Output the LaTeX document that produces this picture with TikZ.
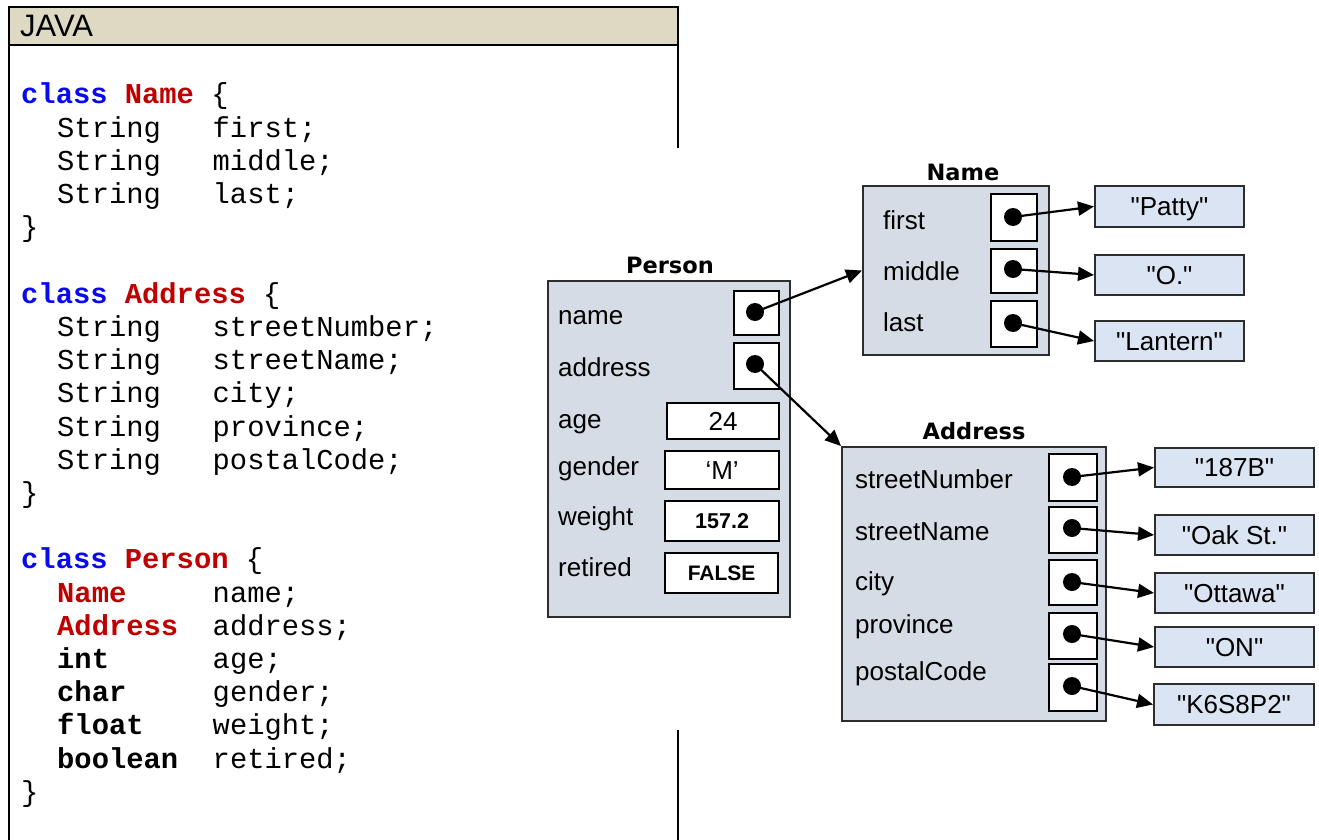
\documentclass[tikz,border=0pt]{standalone}
\usepackage{fontspec}
\setmainfont{Liberation Sans}[Ligatures=TeXOff]
\newfontfamily\codefont{Liberation Mono}[Ligatures=TeXOff]
\newfontfamily\ttlfont{DejaVu Sans}
\usetikzlibrary{arrows.meta}
\definecolor{hdrfill}{RGB}{221,217,195}
\definecolor{clsfill}{RGB}{214,220,229}
\definecolor{valfill}{RGB}{219,228,243}
\definecolor{kwblue}{RGB}{10,10,240}
\definecolor{kwred}{RGB}{192,0,0}
\definecolor{edge}{RGB}{45,45,45}
\newcommand\kwb[1]{\textcolor{kwblue}{\bfseries #1}}
\newcommand\kwr[1]{\textcolor{kwred}{\bfseries #1}}
\newcommand\fld[2]{\hspace*{36pt}\makebox[155.52pt][l]{#1}#2}
\begin{document}
\begin{tikzpicture}[x=1pt,y=-1pt,
  codeln/.style={anchor=base west,inner sep=0pt,font=\codefont\fontsize{28.8}{33}\selectfont},
  lbl/.style={anchor=base west,inner sep=0pt,font=\fontsize{26}{30}\selectfont},
  ttl/.style={anchor=base,inner sep=0pt,font=\ttlfont\bfseries\fontsize{22.5}{26}\selectfont},
  cls/.style={draw=edge,fill=clsfill,line width=2pt,anchor=north west,inner sep=0pt},
  ptr/.style={draw=black,fill=white,line width=2.2pt,anchor=north west,inner sep=0pt},
  prim/.style={draw=black,fill=white,line width=2.2pt,anchor=north west,inner sep=0pt,text height=18pt,text depth=0pt},
  val/.style={draw=edge,fill=valfill,line width=2pt,anchor=north west,inner sep=0pt,
    font=\fontsize{26}{30}\selectfont,text height=18.6pt,text depth=0pt},
  pdot/.style={circle,fill=black,inner sep=0pt,minimum size=18pt},
  arr/.style={-{Triangle[length=16pt,width=14pt]},line width=2.2pt,draw=black}]
\useasboundingbox (0,0) rectangle (1319,840);
\fill[white] (0,0) rectangle (1319,840);

% ---------------- code panel ----------------
\node[fill=hdrfill,anchor=north west,inner sep=0pt,minimum width=669,minimum height=38] (hdr) at (9,7) {};
\draw[line width=2pt] (678,148) -- (678,7) -- (9,7) -- (9,840);
\draw[line width=2pt] (9,45) -- (678,45);
\draw[line width=2pt] (678,730) -- (678,840);
\node[anchor=base west,inner sep=0pt,font=\fontsize{31}{34}\selectfont] (java) at (20,37) {JAVA};

\node[codeln] (c0)  at (21,104) {\kwb{class} \kwr{Name} \{};
\node[codeln] (c1)  at (21,137.2) {\fld{String}{first;}};
\node[codeln] (c2)  at (21,170.4) {\fld{String}{middle;}};
\node[codeln] (c3)  at (21,203.6) {\fld{String}{last;}};
\node[codeln] (c4)  at (21,236.8) {\}};
\node[codeln] (c6)  at (21,303.2) {\kwb{class} \kwr{Address} \{};
\node[codeln] (c7)  at (21,336.4) {\fld{String}{streetNumber;}};
\node[codeln] (c8)  at (21,369.6) {\fld{String}{streetName;}};
\node[codeln] (c9)  at (21,402.8) {\fld{String}{city;}};
\node[codeln] (c10) at (21,436) {\fld{String}{province;}};
\node[codeln] (c11) at (21,469.2) {\fld{String}{postalCode;}};
\node[codeln] (c12) at (21,502.4) {\}};
\node[codeln] (c14) at (21,568.8) {\kwb{class} \kwr{Person} \{};
\node[codeln] (c15) at (21,602) {\fld{\kwr{Name}}{name;}};
\node[codeln] (c16) at (21,635.2) {\fld{\kwr{Address}}{address;}};
\node[codeln] (c17) at (21,668.4) {\fld{\bfseries int}{age;}};
\node[codeln] (c18) at (21,701.6) {\fld{\bfseries char}{gender;}};
\node[codeln] (c19) at (21,734.8) {\fld{\bfseries float}{weight;}};
\node[codeln] (c20) at (21,768) {\fld{\bfseries boolean}{retired;}};
\node[codeln] (c21) at (21,801.2) {\}};

% ---------------- Person ----------------
\node[ttl] (tperson) at (670,273) {Person};
\node[cls,minimum width=242,minimum height=336] (person) at (547,280) {};
\node[lbl] (lname)  at (558,324) {name};
\node[lbl] (laddr)  at (558,376.5) {address};
\node[lbl] (lage)   at (558,428) {age};
\node[lbl] (lgen)   at (558,475) {gender};
\node[lbl] (lwei)   at (558,525) {weight};
\node[lbl] (lret)   at (558,576.5) {retired};
\node[ptr,minimum width=45,minimum height=44] (pname) at (733,290) {};
\node[ptr,minimum width=45,minimum height=46] (paddr) at (733,342) {};
\node[prim,minimum width=112,minimum height=36,font=\fontsize{26}{30}\selectfont] (vage) at (666,402) {24};
\node[prim,minimum width=114,minimum height=38,font=\fontsize{26}{30}\selectfont] (vgen) at (664,450) {‘M’};
\node[prim,minimum width=114,minimum height=40,font=\bfseries\fontsize{21.5}{26}\selectfont,text height=15.5pt] (vwei) at (664,500) {157.2};
\node[prim,minimum width=113,minimum height=40,font=\bfseries\fontsize{21}{26}\selectfont,text height=15pt] (vret) at (664,552) {FALSE};

% ---------------- Name ----------------
\node[ttl] (tname) at (963,180) {Name};
\node[cls,minimum width=186,minimum height=169] (name) at (862,185) {};
\node[lbl] (lfirst) at (883,229) {first};
\node[lbl] (lmid)   at (883,280) {middle};
\node[lbl] (llast)  at (883,331) {last};
\node[ptr,minimum width=46,minimum height=47] (pfirst) at (990,193) {};
\node[ptr,minimum width=46,minimum height=44] (pmid)   at (990,248) {};
\node[ptr,minimum width=46,minimum height=46] (plast)  at (990,300) {};
\node[val,minimum width=149,minimum height=41] (vpatty) at (1094,185) {"Patty"};
\node[val,minimum width=149,minimum height=40] (vo)     at (1094,254) {"O."};
\node[val,minimum width=149,minimum height=40] (vlant)  at (1094,320) {"Lantern"};

% ---------------- Address ----------------
\node[ttl] (taddr) at (974,439) {Address};
\node[cls,minimum width=264,minimum height=274] (addr) at (841,446) {};
\node[lbl] (lsnum)  at (855,488) {streetNumber};
\node[lbl] (lsnam)  at (855,540) {streetName};
\node[lbl] (lcity)  at (855,590) {city};
\node[lbl] (lprov)  at (855,633) {province};
\node[lbl] (lpost)  at (855,680) {postalCode};
\node[ptr,minimum width=48,minimum height=47] (psnum) at (1048,453) {};
\node[ptr,minimum width=48,minimum height=46] (psnam) at (1048,506) {};
\node[ptr,minimum width=48,minimum height=45] (pcity) at (1048,559) {};
\node[ptr,minimum width=48,minimum height=46] (pprov) at (1048,612) {};
\node[ptr,minimum width=48,minimum height=47] (ppost) at (1048,663) {};
\node[val,minimum width=159,minimum height=39] (v187) at (1154,447) {"187B"};
\node[val,minimum width=159,minimum height=40] (voak) at (1154,514) {"Oak St."};
\node[val,minimum width=159,minimum height=40] (vott) at (1154,572) {"Ottawa"};
\node[val,minimum width=159,minimum height=40] (von)  at (1154,626) {"ON"};
\node[val,minimum width=160,minimum height=41] (vk6)  at (1153,683) {"K6S8P2"};

% ---------------- dots ----------------
\node[pdot] (dname)  at (755,312) {};
\node[pdot] (daddr)  at (755,364) {};
\node[pdot] (dfirst) at (1013,217) {};
\node[pdot] (dmid)   at (1013,269) {};
\node[pdot] (dlast)  at (1013,323) {};
\node[pdot] (dsnum)  at (1072,477) {};
\node[pdot] (dsnam)  at (1072,528) {};
\node[pdot] (dcity)  at (1072,582) {};
\node[pdot] (dprov)  at (1072,634) {};
\node[pdot] (dpost)  at (1072,686) {};

% ---------------- arrows ----------------
\draw[arr] (dname.center) -- (name.west);
\draw[arr] (daddr.center) -- (addr.north west);
\draw[arr] (dfirst.center) -- (vpatty.west);
\draw[arr] (dmid.center) -- (vo.west);
\draw[arr] (dlast.center) -- (vlant.west);
\draw[arr] (dsnum.center) -- (v187.west);
\draw[arr] (dsnam.center) -- (voak.west);
\draw[arr] (dcity.center) -- (vott.west);
\draw[arr] (dprov.center) -- (von.west);
\draw[arr] (dpost.center) -- (vk6.west);
\end{tikzpicture}
\end{document}
